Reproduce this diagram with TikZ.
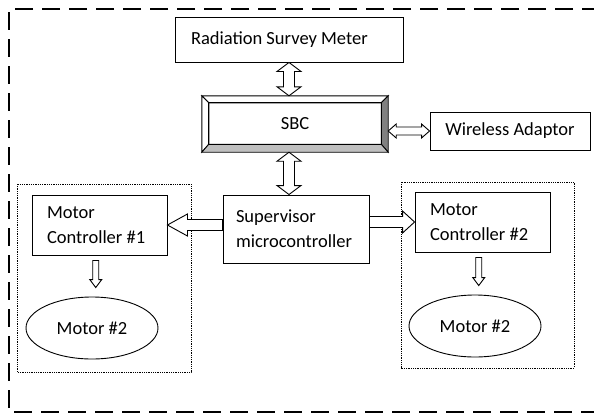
\documentclass[tikz,border=0pt]{standalone}
\usepackage{fontspec}
\setmainfont{Carlito}
\usepackage{tikz}
\usetikzlibrary{shapes, positioning}
\usetikzlibrary{calc}

% hollow block arrows between two anchors
\newcommand{\vdblarrow}[3]{%
  \draw[arrowbody] let \p1=(#1), \p2=(#2), \p3=(#3) in
    (\x3,\y1) -- (\x3+12pt,\y1-9pt) -- (\x3+5.5pt,\y1-9pt) -- (\x3+5.5pt,\y2+9pt)
    -- (\x3+12pt,\y2+9pt) -- (\x3,\y2) -- (\x3-12pt,\y2+9pt) -- (\x3-5.5pt,\y2+9pt)
    -- (\x3-5.5pt,\y1-9pt) -- (\x3-12pt,\y1-9pt) -- cycle;}
\newcommand{\hdblarrow}[2]{%
  \draw[arrowbody] let \p1=(#1), \p2=(#2) in
    (\x1,\y2) -- (\x1+8pt,\y2+7pt) -- (\x1+8pt,\y2+4pt) -- (\x2-8pt,\y2+4pt)
    -- (\x2-8pt,\y2+7pt) -- (\x2,\y2) -- (\x2-8pt,\y2-7pt) -- (\x2-8pt,\y2-4pt)
    -- (\x1+8pt,\y2-4pt) -- (\x1+8pt,\y2-7pt) -- cycle;}
\newcommand{\hsglarrow}[3]{%
  \draw[arrowbody] let \p1=(#1), \p2=(#2) in
    (\x1,\y2+5.5pt) -- (\x2+#3,\y2+5.5pt) -- (\x2+#3,\y2+11pt) -- (\x2,\y2)
    -- (\x2+#3,\y2-11pt) -- (\x2+#3,\y2-5.5pt) -- (\x1,\y2-5.5pt) -- cycle;}
\newcommand{\vsglarrow}[2]{%
  \draw[arrowbody] let \p1=(#1), \p2=(#2), \p3=($(#1)!0.5!(#2)$) in
    (\x3-3pt,\y1-5pt) -- (\x3-3pt,\y2+17pt) -- (\x3-6pt,\y2+17pt) -- (\x3,\y2+9pt)
    -- (\x3+6pt,\y2+17pt) -- (\x3+3pt,\y2+17pt) -- (\x3+3pt,\y1-5pt) -- cycle;}

\begin{document}
\begin{tikzpicture}[x=1pt, y=-1pt,
		font=\fontsize{18.5}{25}\selectfont,
		box/.style={draw, line width=0.9pt, inner sep=0pt},
		leftbox/.style={box, align=flush left, text width=#1},
		motor/.style={draw, ellipse, line width=0.9pt, minimum width=132pt, minimum height=62pt, inner sep=0pt},
		arrowbody/.style={draw, fill=white, line width=0.9pt, line join=miter},
		grpbox/.style={draw, densely dotted, line width=0.8pt},
		outerframe/.style={draw, line width=2pt, dash pattern=on 18pt off 9pt}]
	\useasboundingbox (0,0) rectangle (594,413);
	\draw[outerframe] (600,9) -- (9,9) -- (9,412) -- (600,412);
	
	\node[leftbox=196pt, inner xsep=16pt, minimum height=45pt] (rsm) at (289,39.5) {Radiation Survey Meter};
	\node[minimum width=186pt, minimum height=56pt, inner sep=0pt] (sbc) at (295,124) {};
	\node[box, minimum width=160pt, minimum height=38pt] (wa) at (510,131) {Wireless Adaptor};
	\node[leftbox=120pt, inner xsep=13pt, minimum height=68pt] (sup) at (296,229) {Supervisor\\microcontroller};
	\node[leftbox=105pt, inner xsep=15pt, minimum height=60pt] (mc1) at (99.5,225) {Motor\\Controller \#1};
	\node[leftbox=105pt, inner xsep=15pt, minimum height=60pt] (mc2) at (482.5,222) {Motor\\Controller \#2};
	\node[motor] (m1) at (92,328) {Motor \#2};
	\node[motor] (m2) at (475,326) {Motor \#2};
	
	% bevelled SBC box
	\coordinate (snw) at ($(sbc.north west)+(7,7)$);
	\coordinate (sne) at ($(sbc.north east)+(-7,7)$);
	\coordinate (ssw) at ($(sbc.south west)+(7,-8)$);
	\coordinate (sse) at ($(sbc.south east)+(-7,-8)$);
	\filldraw[fill=white, line width=0.9pt] (sbc.north west) -- (sbc.north east) -- (sne) -- (snw) -- cycle;
	\filldraw[fill=white, line width=0.9pt] (sbc.north west) -- (snw) -- (ssw) -- (sbc.south west) -- cycle;
	\filldraw[fill=black!50, line width=0.9pt] (sbc.north east) -- (sbc.south east) -- (sse) -- (sne) -- cycle;
	\filldraw[fill=black!25, line width=0.9pt] (sbc.south west) -- (sbc.south east) -- (sse) -- (ssw) -- cycle;
	\draw[line width=0.9pt] (snw) rectangle (sse);
	\node at ($(snw)!0.5!(sse)$) {SBC};
	
	% groups
	\draw[grpbox] (17,184) rectangle (191,372);
	\draw[grpbox] (401,182) rectangle (574,368);
	
	% connectors
	\vdblarrow{rsm.south}{sbc.north}{rsm.south}
	\vdblarrow{sbc.south}{sup.north}{rsm.south}
	\hdblarrow{sbc.east}{wa.west}
	\hsglarrow{sup.west}{mc1.east}{20pt}
	\hsglarrow{sup.east}{mc2.west}{-12pt}
	\vsglarrow{mc1.south}{m1.north}
	\vsglarrow{mc2.south}{m2.north}
\end{tikzpicture}
\end{document}
